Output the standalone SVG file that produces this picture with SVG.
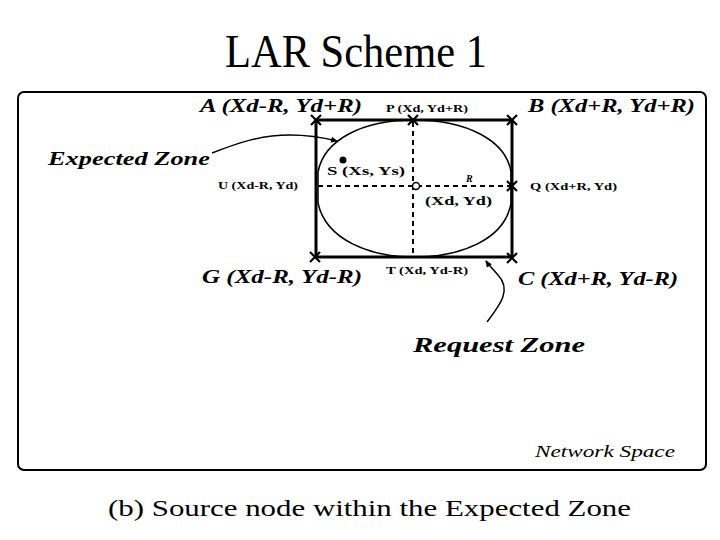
<svg xmlns="http://www.w3.org/2000/svg" width="720" height="540" viewBox="0 0 720 540">
<defs>
<style>
.t{font-family:"Liberation Serif","Times New Roman",serif;fill:#000}
.bi{font-weight:bold;font-style:italic}
.sm{font-size:10px;font-weight:bold}
.ln{fill:none;stroke:#000}
.x{stroke:#000;stroke-width:2.2;fill:none}
</style>
<marker id="ah" markerWidth="8" markerHeight="8" refX="6" refY="3" orient="auto" markerUnits="userSpaceOnUse">
<path d="M0,0 L7,3 L0,6 Z" fill="#000"/>
</marker>
<path id="cross" d="M-5,-5 L5,5 M-5,5 L5,-5" class="x"/>
</defs>
<rect width="720" height="540" fill="#fff"/>
<text class="t" x="225" y="67" font-size="46" textLength="262" lengthAdjust="spacingAndGlyphs">LAR Scheme 1</text>
<rect x="18" y="92" width="688" height="378" rx="6" class="ln" stroke-width="2"/>
<g id="request-zone">
<rect x="316" y="120" width="196" height="137" class="ln" stroke-width="3"/>
</g>
<g id="expected-zone">
<path d="M414,120 C362,120 324,140 318,172 L318,203 C326,240 370,257 414,257 C460,257 505,240 511,203 L511,172 C506,140 466,120 414,120 Z" class="ln" stroke-width="1.5"/>
</g>
<g id="axes">
<line x1="413" y1="122" x2="413" y2="256" class="ln" stroke-width="2" stroke-dasharray="5,4"/>
<line x1="318" y1="186" x2="511" y2="186" class="ln" stroke-width="2" stroke-dasharray="5,4"/>
<circle cx="416" cy="186" r="3.5" fill="#fff" stroke="#000" stroke-width="1.5"/>
</g>
<g id="points">
<use href="#cross" x="316" y="120"/>
<use href="#cross" x="413" y="120"/>
<use href="#cross" x="512" y="120"/>
<use href="#cross" x="512" y="186"/>
<use href="#cross" x="315" y="257"/>
<use href="#cross" x="512" y="258"/>
</g>
<g id="source">
<circle cx="343" cy="160" r="3.5" fill="#000"/>
<text class="t" x="327" y="175" font-size="12.5" font-weight="bold" textLength="78" lengthAdjust="spacingAndGlyphs">S (Xs, Ys)</text>
</g>
<g id="connectors">
<path d="M212,153 C240,142 262,135 290,135 C310,135 325,138 337,141" class="ln" stroke-width="1.5" marker-end="url(#ah)"/>
<path d="M487,322 C500,305 512,290 498,275 C492,268 488,264 486,261" class="ln" stroke-width="1.5" marker-end="url(#ah)"/>
</g>
<g id="labels">
<text class="t bi" x="200" y="112" font-size="19" textLength="162" lengthAdjust="spacingAndGlyphs">A (Xd-R, Yd+R)</text>
<text class="t sm" x="386" y="112" textLength="82" lengthAdjust="spacingAndGlyphs">P (Xd, Yd+R)</text>
<text class="t bi" x="528" y="112" font-size="19" textLength="167" lengthAdjust="spacingAndGlyphs">B (Xd+R, Yd+R)</text>
<text class="t bi" x="48" y="165" font-size="19" textLength="162" lengthAdjust="spacingAndGlyphs">Expected Zone</text>
<text class="t sm" x="218" y="189" textLength="80" lengthAdjust="spacingAndGlyphs">U (Xd-R, Yd)</text>
<text class="t" x="466" y="182" font-size="10" font-style="italic" font-weight="bold">R</text>
<text class="t" x="425" y="205" font-size="13" font-weight="bold" textLength="67" lengthAdjust="spacingAndGlyphs">(Xd, Yd)</text>
<text class="t sm" x="530" y="190" textLength="87" lengthAdjust="spacingAndGlyphs">Q (Xd+R, Yd)</text>
<text class="t bi" x="202" y="283" font-size="19" textLength="160" lengthAdjust="spacingAndGlyphs">G (Xd-R, Yd-R)</text>
<text class="t sm" x="386" y="274" textLength="82" lengthAdjust="spacingAndGlyphs">T (Xd, Yd-R)</text>
<text class="t bi" x="518" y="285" font-size="19" textLength="160" lengthAdjust="spacingAndGlyphs">C (Xd+R, Yd-R)</text>
<text class="t bi" x="413" y="352" font-size="21" textLength="172" lengthAdjust="spacingAndGlyphs">Request Zone</text>
<text class="t" x="535" y="457" font-size="17" font-style="italic" textLength="140" lengthAdjust="spacingAndGlyphs">Network Space</text>
</g>
<text class="t" x="108" y="516" font-size="24" textLength="523" lengthAdjust="spacingAndGlyphs">(b) Source node within the Expected Zone</text>
</svg>
